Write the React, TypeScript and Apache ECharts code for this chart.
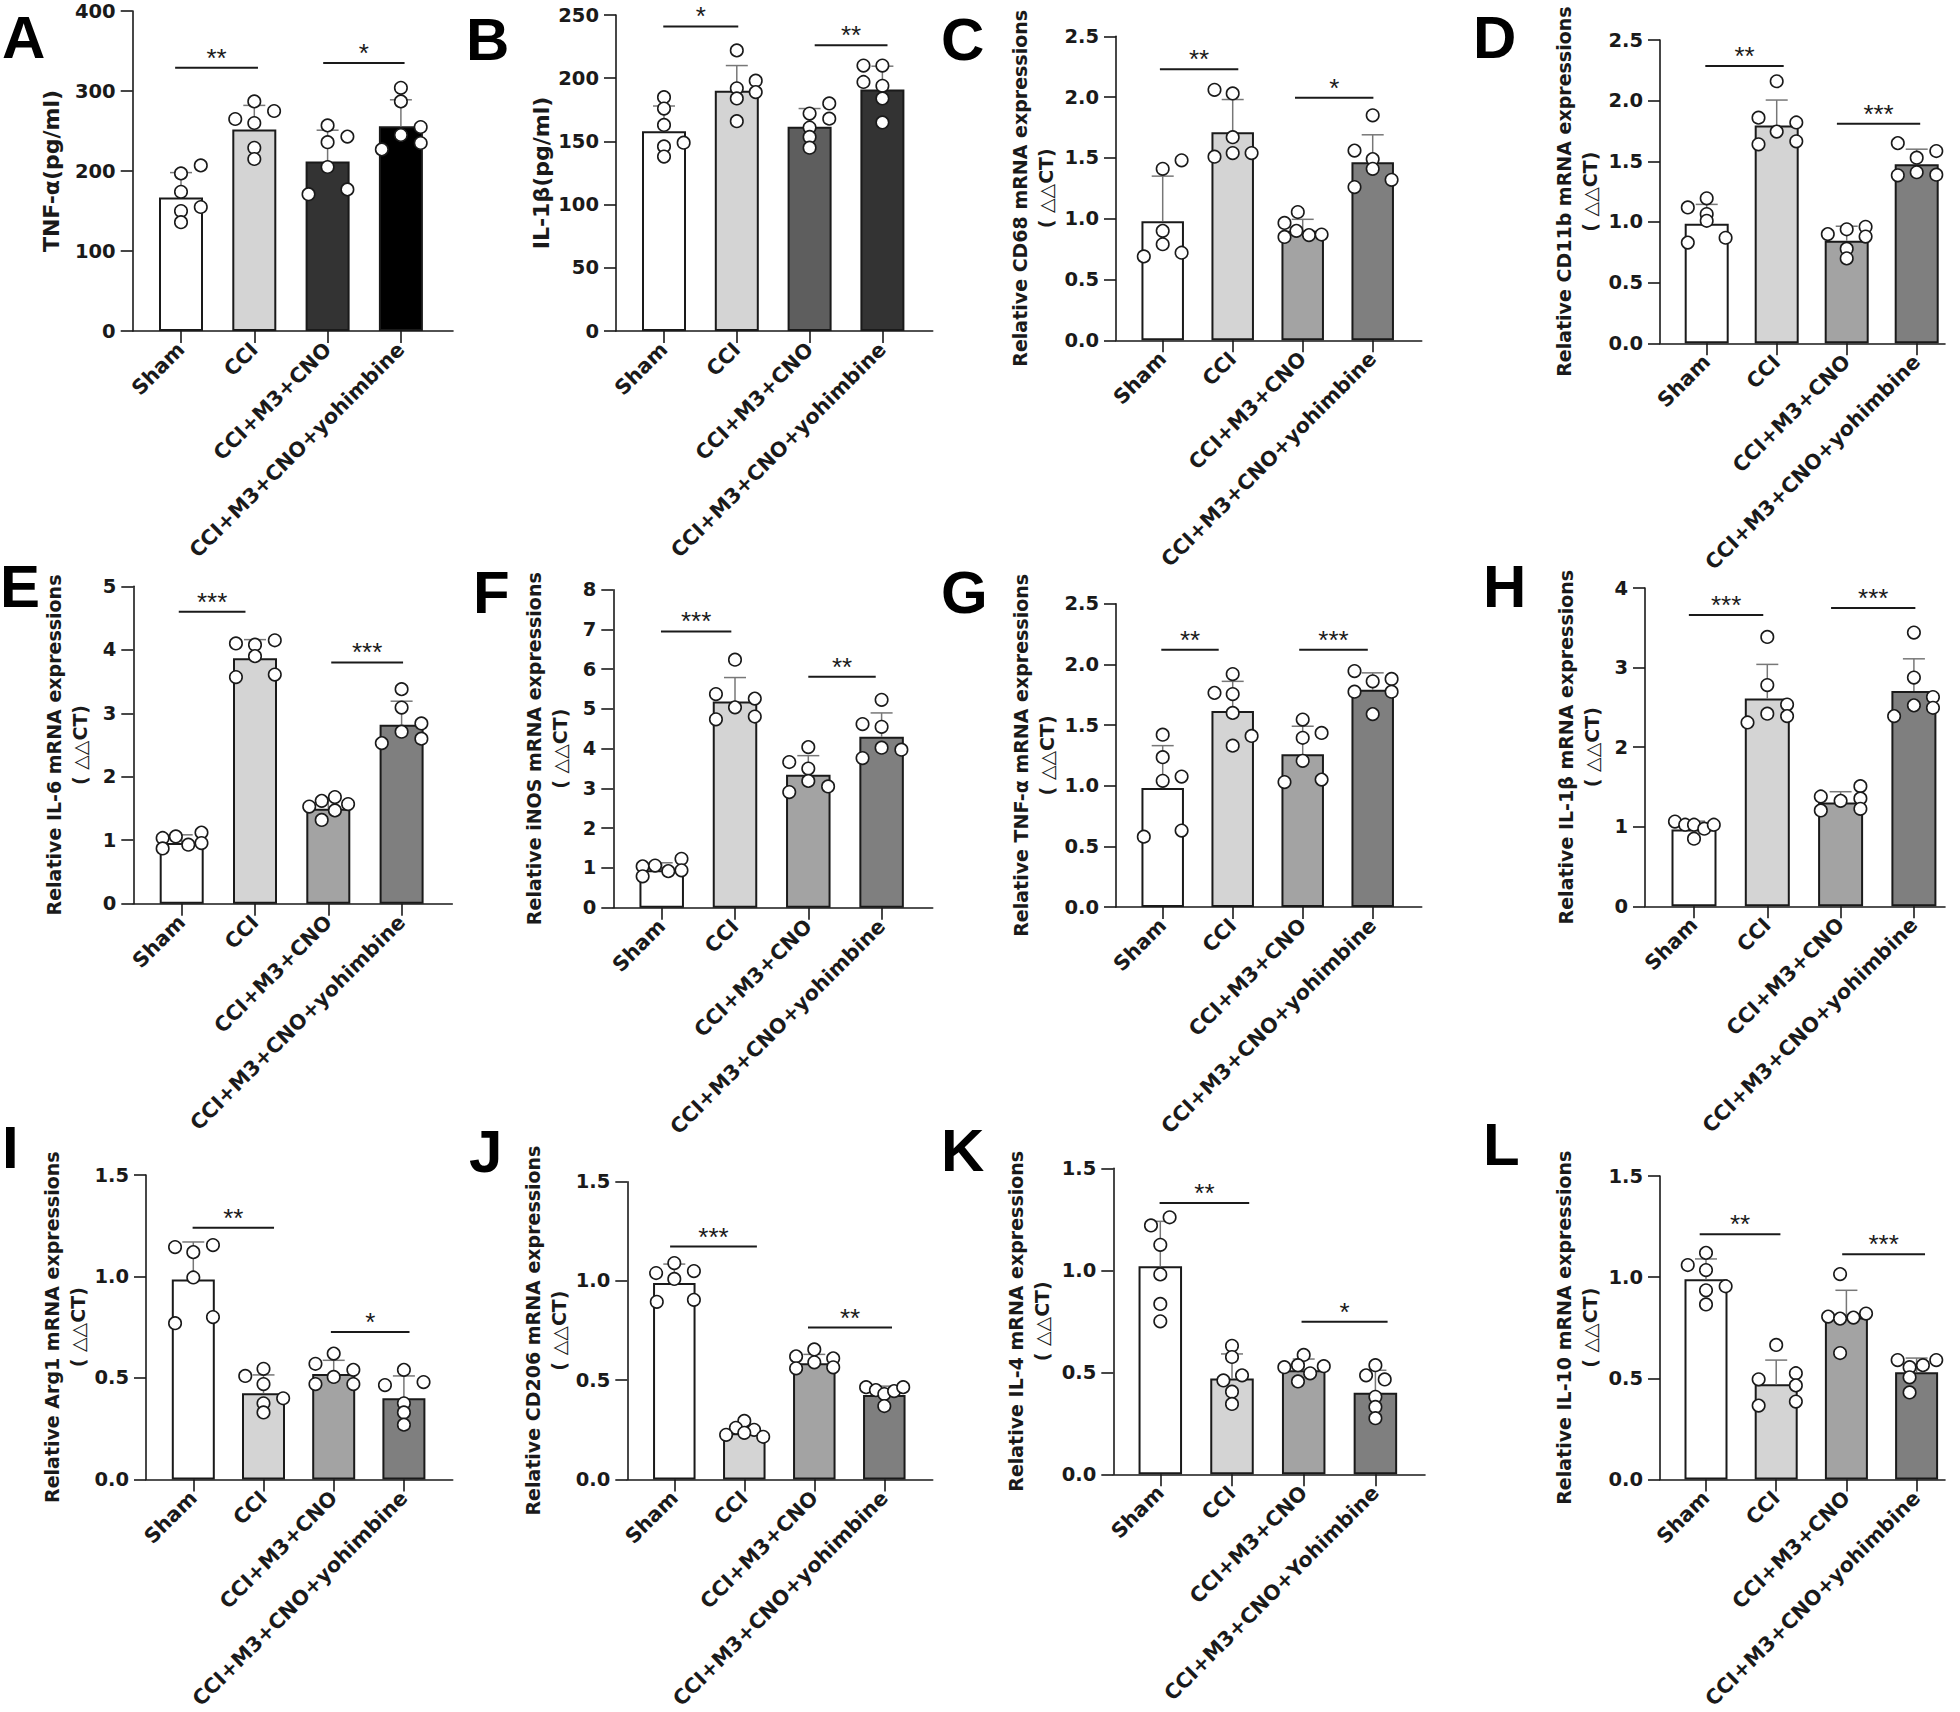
import React, { useEffect, useRef } from 'react';
import * as echarts from 'echarts';

const CATS = ['Sham', 'CCI', 'CCI+M3+CNO', 'CCI+M3+CNO+yohimbine'];
const CATS_K = ['Sham', 'CCI', 'CCI+M3+CNO', 'CCI+M3+CNO+Yohimbine'];

// ---- Data (means, SDs, individual points as [offset, value], significance [x1, x2, y]) ----
const A_means = [167, 252, 212, 256];
const A_sds = [31, 30, 39, 33];
const A_points = [
  [[0, 197], [0.27, 207], [0, 174], [0, 150], [0.27, 155], [0, 136]],
  [[0, 287], [-0.26, 265], [0.27, 275], [0, 260], [0, 229], [0, 215]],
  [[0, 257], [0.27, 243], [0, 236], [0, 205], [-0.26, 171], [0.27, 177]],
  [[0, 304], [0, 287], [0.27, 255], [0, 245], [0.27, 235], [-0.26, 227]],
];
const A_sig = [[-0.08, 1.05, 329], [1.94, 3.05, 335]];
const A_stars = ['**', '*'];

const B_means = [158, 190, 161.5, 191];
const B_sds = [20, 20, 14.5, 18.5];
const B_points = [
  [[0, 185], [0, 176], [0, 163], [0, 146], [0.27, 149], [0, 138]],
  [[0, 222], [0, 192], [0.26, 198], [0.26, 189], [0, 184], [0, 166]],
  [[0.27, 180], [0, 172], [0.27, 168], [0, 161], [0, 153.5], [0, 145]],
  [[-0.26, 210], [0, 210], [-0.26, 197], [0, 194], [0, 184], [0, 165]],
];
const B_sig = [[-0.01, 1.02, 241], [2.07, 3.07, 226]];
const B_stars = ['*', '**'];

const C_means = [0.98, 1.71, 0.9, 1.465];
const C_sds = [0.37, 0.27, 0.095, 0.225];
const C_points = [
  [[0, 1.41], [0.27, 1.48], [0, 0.9], [0, 0.79], [-0.27, 0.69], [0.27, 0.72]],
  [[-0.26, 2.06], [0, 2.03], [0, 1.67], [-0.26, 1.51], [0, 1.54], [0.27, 1.54]],
  [[-0.07, 1.055], [-0.26, 0.965], [-0.09, 0.9], [-0.26, 0.85], [0.09, 0.865], [0.27, 0.87]],
  [[0, 1.85], [-0.26, 1.56], [0, 1.49], [0, 1.41], [-0.26, 1.26], [0.27, 1.32]],
];
const C_sig = [[-0.04, 1.08, 2.23], [1.89, 3.01, 1.995]];
const C_stars = ['**', '*'];

const D_means = [0.985, 1.795, 0.845, 1.475];
const D_sds = [0.16, 0.21, 0.12, 0.125];
const D_points = [
  [[0, 1.195], [-0.27, 1.12], [0, 1.065], [0, 1.01], [-0.27, 0.83], [0.27, 0.87]],
  [[0, 2.16], [-0.26, 1.86], [0.28, 1.82], [0, 1.745], [-0.26, 1.64], [0.28, 1.665]],
  [[-0.27, 0.9], [0, 0.94], [0.27, 0.96], [0.27, 0.88], [0, 0.78], [0, 0.7]],
  [[-0.27, 1.65], [0.28, 1.585], [0, 1.53], [-0.27, 1.385], [0, 1.41], [0.28, 1.39]],
];
const D_sig = [[-0.02, 1.1, 2.285], [1.86, 3.05, 1.81]];
const D_stars = ['**', '***'];

const E_means = [0.955, 3.865, 1.495, 2.82];
const E_sds = [0.13, 0.295, 0.14, 0.37];
const E_points = [
  [[-0.26, 1.035], [-0.08, 1.06], [-0.26, 0.87], [0.27, 1.12], [0.09, 0.93], [0.27, 0.955]],
  [[-0.26, 4.1], [0, 4.08], [0.27, 4.15], [0, 3.9], [-0.26, 3.57], [0.27, 3.61]],
  [[-0.26, 1.53], [-0.09, 1.62], [0.09, 1.68], [0.27, 1.57], [0.09, 1.47], [-0.09, 1.32]],
  [[0, 3.38], [0, 3.09], [0.27, 2.84], [0, 2.71], [-0.27, 2.53], [0.27, 2.6]],
];
const E_sig = [[-0.04, 0.87, 4.6], [2.04, 3.02, 3.8]];
const E_stars = ['***', '***'];

const F_means = [0.94, 5.19, 3.345, 4.3];
const F_sds = [0.19, 0.6, 0.48, 0.6];
const F_points = [
  [[-0.26, 1.04], [-0.09, 1.06], [-0.26, 0.79], [0.09, 0.92], [0.27, 1.23], [0.27, 0.94]],
  [[0, 6.24], [-0.26, 5.375], [0.27, 5.26], [0, 5.04], [-0.26, 4.74], [0.27, 4.81]],
  [[0, 4.04], [-0.26, 3.665], [0, 3.5], [0, 3.19], [-0.26, 2.91], [0.27, 3.05]],
  [[0, 5.23], [-0.26, 4.62], [0, 4.55], [-0.26, 3.765], [0, 4.025], [0.27, 3.975]],
];
const F_sig = [[-0.01, 0.95, 6.95], [2.0, 2.92, 5.81]];
const F_stars = ['***', '**'];

const G_means = [0.98, 1.615, 1.26, 1.79];
const G_sds = [0.35, 0.245, 0.23, 0.14];
const G_points = [
  [[0, 1.42], [0, 1.235], [0, 1.04], [0.27, 1.075], [-0.27, 0.58], [0.27, 0.63]],
  [[0, 1.92], [-0.26, 1.765], [0, 1.755], [0, 1.6], [0.27, 1.41], [0, 1.33]],
  [[0, 1.545], [0, 1.395], [0.27, 1.435], [0, 1.205], [-0.26, 1.03], [0.27, 1.05]],
  [[-0.26, 1.945], [0, 1.86], [0.27, 1.88], [-0.26, 1.775], [0.27, 1.775], [0, 1.59]],
];
const G_sig = [[-0.02, 0.8, 2.12], [1.95, 2.93, 2.12]];
const G_stars = ['**', '***'];

const H_means = [0.965, 2.61, 1.305, 2.705];
const H_sds = [0.105, 0.43, 0.135, 0.405];
const H_points = [
  [[-0.26, 1.065], [-0.12, 1.025], [0, 1.025], [0.14, 0.975], [0.27, 1.025], [0, 0.85]],
  [[0, 3.385], [0, 2.78], [0.27, 2.535], [0, 2.42], [0.27, 2.39], [-0.27, 2.31]],
  [[-0.27, 1.38], [0, 1.325], [0.27, 1.51], [0.27, 1.355], [-0.27, 1.205], [0.27, 1.225]],
  [[0, 3.44], [0, 2.875], [0.26, 2.63], [0, 2.525], [0.26, 2.495], [-0.27, 2.39]],
];
const H_sig = [[-0.07, 0.945, 3.66], [1.87, 3.02, 3.75]];
const H_stars = ['***', '***'];

const I_means = [0.985, 0.425, 0.52, 0.4];
const I_sds = [0.185, 0.09, 0.067, 0.11];
const I_points = [
  [[-0.26, 1.145], [0.28, 1.155], [0, 1.12], [0, 0.995], [-0.26, 0.77], [0.28, 0.8]],
  [[0, 0.545], [-0.26, 0.51], [0, 0.47], [0.28, 0.4], [0, 0.375], [0, 0.33]],
  [[0, 0.62], [-0.26, 0.57], [0.28, 0.54], [0, 0.505], [-0.26, 0.47], [0.28, 0.47]],
  [[0, 0.54], [-0.27, 0.465], [0.28, 0.48], [0, 0.375], [0, 0.33], [0, 0.27]],
];
const I_sig = [[-0.01, 1.15, 1.24], [1.96, 3.08, 0.726]];
const I_stars = ['**', '*'];

const J_means = [0.99, 0.233, 0.585, 0.425];
const J_sds = [0.095, 0.03, 0.045, 0.045];
const J_points = [
  [[0, 1.09], [-0.26, 1.04], [0.28, 1.05], [0, 1.01], [-0.25, 0.895], [0.28, 0.905]],
  [[0, 0.295], [-0.12, 0.26], [0.14, 0.25], [-0.26, 0.225], [0, 0.235], [0.27, 0.215]],
  [[0, 0.655], [-0.26, 0.62], [0.27, 0.61], [0, 0.59], [-0.26, 0.56], [0.27, 0.565]],
  [[-0.26, 0.465], [-0.12, 0.45], [0, 0.43], [0.14, 0.445], [0.27, 0.465], [0, 0.37]],
];
const J_sig = [[-0.06, 1.18, 1.173], [1.91, 3.11, 0.765]];
const J_stars = ['***', '**'];

const K_means = [1.02, 0.47, 0.51, 0.4];
const K_sds = [0.22, 0.12, 0.055, 0.11];
const K_points = [
  [[0.13, 1.26], [-0.13, 1.22], [0, 1.125], [0, 0.98], [0, 0.835], [0, 0.75]],
  [[0, 0.63], [0, 0.575], [-0.12, 0.46], [0.14, 0.485], [0, 0.405], [0, 0.345]],
  [[0, 0.585], [-0.08, 0.535], [-0.27, 0.525], [0.28, 0.53], [0.09, 0.495], [-0.08, 0.455]],
  [[0, 0.535], [-0.13, 0.485], [0.13, 0.465], [0, 0.38], [0, 0.33], [0, 0.275]],
];
const K_sig = [[-0.01, 1.24, 1.33], [1.97, 3.17, 0.748]];
const K_stars = ['**', '*'];

const L_means = [0.99, 0.47, 0.8, 0.53];
const L_sds = [0.1, 0.12, 0.135, 0.07];
const L_points = [
  [[0, 1.12], [-0.26, 1.06], [0, 1.035], [0.28, 0.955], [0, 0.935], [0, 0.865]],
  [[0, 0.665], [0.28, 0.525], [-0.25, 0.495], [0.28, 0.465], [-0.25, 0.365], [0.28, 0.385]],
  [[-0.09, 1.015], [-0.26, 0.805], [-0.09, 0.795], [0.1, 0.8], [0.28, 0.82], [-0.09, 0.625]],
  [[-0.27, 0.59], [-0.1, 0.555], [0.09, 0.565], [0.28, 0.59], [-0.1, 0.505], [-0.1, 0.43]],
];
const L_sig = [[-0.09, 1.06, 1.212], [1.94, 3.12, 1.113]];
const L_stars = ['**', '***'];

// ---- Styling ----
const COLORS_A = ['#ffffff', '#d4d4d4', '#333333', '#000000'];
const COLORS_B = ['#ffffff', '#d4d4d4', '#5e5e5e', '#333333'];
const COLORS_Q = ['#ffffff', '#d4d4d4', '#a3a3a3', '#7f7f7f'];
const FONT = '"DejaVu Sans", sans-serif';
const INK = '#1a1a1a';

const PANELS = [
  { letter: 'A', title: 'TNF-α(pg/ml)', titleSize: 22, means: A_means, sds: A_sds, points: A_points, sig: A_sig, stars: A_stars, cats: CATS, yMax: 400, yInt: 100, dec: 0, colors: COLORS_A },
  { letter: 'B', title: 'IL-1β(pg/ml)', titleSize: 22, means: B_means, sds: B_sds, points: B_points, sig: B_sig, stars: B_stars, cats: CATS, yMax: 250, yInt: 50, dec: 0, colors: COLORS_B },
  { letter: 'C', title: 'Relative CD68 mRNA expressions\n( △△CT)', titleSize: 19, means: C_means, sds: C_sds, points: C_points, sig: C_sig, stars: C_stars, cats: CATS, yMax: 2.5, yInt: 0.5, dec: 1, colors: COLORS_Q },
  { letter: 'D', title: 'Relative CD11b mRNA expressions\n( △△CT)', titleSize: 19, means: D_means, sds: D_sds, points: D_points, sig: D_sig, stars: D_stars, cats: CATS, yMax: 2.5, yInt: 0.5, dec: 1, colors: COLORS_Q },
  { letter: 'E', title: 'Relative IL-6 mRNA expressions\n( △△CT)', titleSize: 19, means: E_means, sds: E_sds, points: E_points, sig: E_sig, stars: E_stars, cats: CATS, yMax: 5, yInt: 1, dec: 0, colors: COLORS_Q },
  { letter: 'F', title: 'Relative iNOS mRNA expressions\n( △△CT)', titleSize: 19, means: F_means, sds: F_sds, points: F_points, sig: F_sig, stars: F_stars, cats: CATS, yMax: 8, yInt: 1, dec: 0, colors: COLORS_Q },
  { letter: 'G', title: 'Relative TNF-α mRNA expressions\n( △△CT)', titleSize: 19, means: G_means, sds: G_sds, points: G_points, sig: G_sig, stars: G_stars, cats: CATS, yMax: 2.5, yInt: 0.5, dec: 1, colors: COLORS_Q },
  { letter: 'H', title: 'Relative IL-1β mRNA expressions\n( △△CT)', titleSize: 19, means: H_means, sds: H_sds, points: H_points, sig: H_sig, stars: H_stars, cats: CATS, yMax: 4, yInt: 1, dec: 0, colors: COLORS_Q },
  { letter: 'I', title: 'Relative Arg1 mRNA expressions\n( △△CT)', titleSize: 19, means: I_means, sds: I_sds, points: I_points, sig: I_sig, stars: I_stars, cats: CATS, yMax: 1.5, yInt: 0.5, dec: 1, colors: COLORS_Q },
  { letter: 'J', title: 'Relative CD206 mRNA expressions\n( △△CT)', titleSize: 19, means: J_means, sds: J_sds, points: J_points, sig: J_sig, stars: J_stars, cats: CATS, yMax: 1.5, yInt: 0.5, dec: 1, colors: COLORS_Q },
  { letter: 'K', title: 'Relative IL-4 mRNA expressions\n( △△CT)', titleSize: 19, means: K_means, sds: K_sds, points: K_points, sig: K_sig, stars: K_stars, cats: CATS_K, yMax: 1.5, yInt: 0.5, dec: 1, colors: COLORS_Q },
  { letter: 'L', title: 'Relative IL-10 mRNA expressions\n( △△CT)', titleSize: 19, means: L_means, sds: L_sds, points: L_points, sig: L_sig, stars: L_stars, cats: CATS, yMax: 1.5, yInt: 0.5, dec: 1, colors: COLORS_Q },
];

// ---- Layout (pixels) ----
// left/right/top/bottom of axes, first category centre c0, category spacing s, bar width, name gap, letter position
const LAYOUT = [
  { left: 132.7, top: 11, right: 453, bottom: 331, c0: 181, s: 73.3, bw: 44, gap: 68, lx: 2, ly: 37 },
  { left: 616, top: 15, right: 932.7, bottom: 331, c0: 664, s: 72.8, bw: 44, gap: 62, lx: 466, ly: 39 },
  { left: 1116, top: 36.3, right: 1421.7, bottom: 340.3, c0: 1162.7, s: 70, bw: 42.5, gap: 57, lx: 941, ly: 39 },
  { left: 1660, top: 40, right: 1945, bottom: 343.3, c0: 1706.7, s: 70, bw: 44, gap: 57, lx: 1473, ly: 37 },
  { left: 133.3, top: 586.3, right: 452.3, bottom: 903.7, c0: 181.7, s: 73.3, bw: 44, gap: 40, lx: 0, ly: 586 },
  { left: 613.3, top: 589.7, right: 932.7, bottom: 907.7, c0: 661.7, s: 73.3, bw: 44.5, gap: 40, lx: 473, ly: 592 },
  { left: 1116, top: 603.7, right: 1421.7, bottom: 907, c0: 1162.7, s: 70, bw: 42.5, gap: 56, lx: 941, ly: 592 },
  { left: 1645, top: 588, right: 1945, bottom: 906.3, c0: 1694, s: 73.3, bw: 45, gap: 40, lx: 1483, ly: 586 },
  { left: 146, top: 1175, right: 452.7, bottom: 1480, c0: 193.3, s: 70.2, bw: 43, gap: 54, lx: 2, ly: 1147 },
  { left: 627.3, top: 1181.7, right: 932.7, bottom: 1484.3, c0: 674.3, s: 70, bw: 42.5, gap: 55, lx: 469, ly: 1151 },
  { left: 1113.3, top: 1168.3, right: 1425, bottom: 1474.3, c0: 1160.3, s: 71.7, bw: 43.5, gap: 58, lx: 941, ly: 1150 },
  { left: 1660, top: 1176, right: 1945, bottom: 1480, c0: 1706, s: 70.2, bw: 43, gap: 57, lx: 1483, ly: 1144 },
];

function buildOption() {
  const grid: any[] = [];
  const xAxis: any[] = [];
  const yAxis: any[] = [];
  const series: any[] = [];
  const graphic: any[] = [];
  const axisLineStyle = { color: INK, width: 1.6 };

  PANELS.forEach((p, k) => {
    const L = LAYOUT[k];
    const xMin = (L.left - L.c0) / L.s;
    const xMax = (L.right - L.c0) / L.s;
    grid.push({ left: L.left, top: L.top, width: L.right - L.left, height: L.bottom - L.top, containLabel: false });
    xAxis.push({
      gridIndex: k,
      type: 'value',
      min: xMin,
      max: xMax,
      splitLine: { show: false },
      axisLine: { show: true, onZero: false, lineStyle: axisLineStyle },
      axisTick: { show: true, customValues: [0, 1, 2, 3], length: 12, lineStyle: axisLineStyle },
      axisLabel: {
        customValues: [0, 1, 2, 3],
        formatter: (v: number) => p.cats[Math.round(v)] ?? '',
        rotate: 45,
        margin: 15,
        fontFamily: FONT,
        fontWeight: 'bold',
        fontSize: 20.5,
        color: INK,
      },
    });
    yAxis.push({
      gridIndex: k,
      type: 'value',
      min: 0,
      max: p.yMax,
      interval: p.yInt,
      name: p.title,
      nameLocation: 'middle',
      nameGap: L.gap,
      nameTextStyle: {
        fontFamily: FONT,
        fontWeight: 'bold',
        fontSize: p.titleSize,
        lineHeight: 26,
        color: INK,
        align: 'center',
      },
      splitLine: { show: false },
      axisLine: { show: true, onZero: false, lineStyle: axisLineStyle },
      axisTick: { show: true, length: 12, lineStyle: axisLineStyle },
      axisLabel: {
        formatter: (v: number) => v.toFixed(p.dec),
        margin: 17,
        fontFamily: FONT,
        fontWeight: 'bold',
        fontSize: 19.5,
        color: INK,
      },
    });

    series.push({
      type: 'bar',
      xAxisIndex: k,
      yAxisIndex: k,
      barWidth: L.bw,
      z: 2,
      itemStyle: { borderColor: INK, borderWidth: 2 },
      data: p.means.map((m, i) => ({ value: [i, m], itemStyle: { color: p.colors[i], borderColor: INK, borderWidth: 2 } })),
    });

    series.push({
      type: 'custom',
      xAxisIndex: k,
      yAxisIndex: k,
      z: 3,
      data: p.means.map((m, i) => [i, m, p.sds[i]]),
      renderItem: (params: any, api: any) => {
        const x = api.value(0);
        const m = api.value(1);
        const s = api.value(2);
        const a = api.coord([x, m]);
        const b = api.coord([x, m + s]);
        return {
          type: 'group',
          children: [
            { type: 'line', shape: { x1: a[0], y1: a[1], x2: b[0], y2: b[1] }, style: { stroke: '#777', lineWidth: 1.5 } },
            { type: 'line', shape: { x1: b[0] - 11, y1: b[1], x2: b[0] + 11, y2: b[1] }, style: { stroke: '#777', lineWidth: 1.5 } },
          ],
        };
      },
    });

    series.push({
      type: 'scatter',
      xAxisIndex: k,
      yAxisIndex: k,
      z: 4,
      symbol: 'circle',
      symbolSize: 12.5,
      itemStyle: { color: '#ffffff', borderColor: INK, borderWidth: 1.6, opacity: 1 },
      data: p.points.flatMap((grp, i) => grp.map(([dx, v]) => [i + dx, v])),
    });

    series.push({
      type: 'custom',
      xAxisIndex: k,
      yAxisIndex: k,
      z: 5,
      data: p.sig,
      renderItem: (params: any, api: any) => {
        const a = api.coord([api.value(0), api.value(2)]);
        const b = api.coord([api.value(1), api.value(2)]);
        const label = p.stars[params.dataIndex];
        return {
          type: 'group',
          children: [
            { type: 'line', shape: { x1: a[0], y1: a[1], x2: b[0], y2: b[1] }, style: { stroke: INK, lineWidth: 2 } },
            {
              type: 'text',
              x: (a[0] + b[0]) / 2,
              y: a[1] - 10,
              style: {
                text: label,
                fontSize: 26,
                fontFamily: '"Liberation Sans", Arial, sans-serif',
                fill: INK,
                align: 'center',
                verticalAlign: 'middle',
                textAlign: 'center',
                textVerticalAlign: 'middle',
              },
            },
          ],
        };
      },
    });

    graphic.push({
      type: 'text',
      x: L.lx,
      y: L.ly,
      style: {
        text: p.letter,
        fontSize: 60,
        fontWeight: 'bold',
        fontFamily: '"Liberation Sans", Arial, sans-serif',
        fill: '#000',
        align: 'left',
        verticalAlign: 'middle',
        textAlign: 'left',
        textVerticalAlign: 'middle',
      },
    });
  });

  return {
    animation: false,
    backgroundColor: '#ffffff',
    textStyle: { fontFamily: FONT },
    grid,
    xAxis,
    yAxis,
    series,
    graphic,
  };
}

export default function App() {
  const ref = useRef<HTMLDivElement>(null);
  useEffect(() => {
    document.body.style.margin = '0';
    document.body.style.overflow = 'hidden';
    if (!ref.current) return;
    const chart = echarts.init(ref.current, undefined, { renderer: 'svg' });
    chart.setOption(buildOption() as any);
    return () => chart.dispose();
  }, []);
  return <div ref={ref} style={{ width: 1960, height: 1712, background: '#fff' }} />;
}
